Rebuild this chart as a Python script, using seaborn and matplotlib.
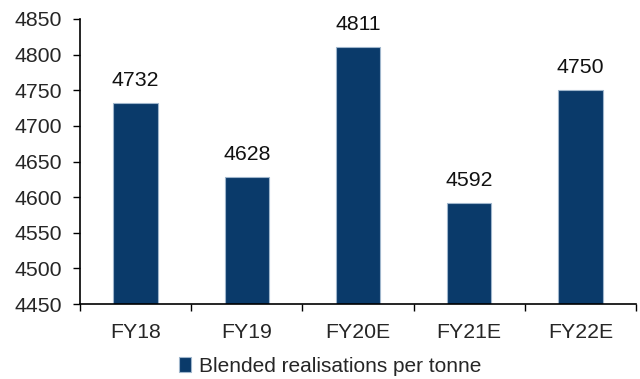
import matplotlib
matplotlib.use("Agg")
import matplotlib.pyplot as plt
import seaborn as sns
import pandas as pd
from matplotlib.ticker import FixedLocator

years = ["FY18", "FY19", "FY20E", "FY21E", "FY22E"]
realisations = [4732, 4628, 4811, 4592, 4750]
series_name = "Blended realisations per tonne"

sns.set_theme(style="white")
plt.rcParams["font.family"] = ["Liberation Sans", "DejaVu Sans"]

df = pd.DataFrame({"year": years, "value": realisations})

fig = plt.figure(figsize=(6.4, 3.79), dpi=100)
ax = fig.add_axes([80 / 640, 1 - 304 / 379, 556 / 640, 285 / 379])

sns.barplot(data=df, x="year", y="value", color="#0A3A6A", width=0.4,
            edgecolor="#9FB6CC", linewidth=0.8, saturation=1, ax=ax,
            label=series_name)

ax.set_ylim(4450, 4850)
ax.set_yticks(range(4450, 4851, 50))
ax.set_xlim(-0.5, len(years) - 0.5)
ax.set_xlabel("")
ax.set_ylabel("")

for i, v in enumerate(realisations):
    ax.text(i, v + 18, f"{v}", ha="center", va="bottom", fontsize=15.3, color="#111111")

for side in ("top", "right"):
    ax.spines[side].set_visible(False)
for side in ("left", "bottom"):
    ax.spines[side].set_color("black")
    ax.spines[side].set_linewidth(1.2)

ax.tick_params(axis="y", which="major", direction="out", length=5, width=1,
               color="black", labelsize=15.3, pad=8, left=True)
ax.tick_params(axis="x", which="major", length=0, labelsize=15.3, pad=14)
ax.xaxis.set_minor_locator(FixedLocator([i - 0.5 for i in range(len(years) + 1)]))
ax.tick_params(axis="x", which="minor", direction="out", length=5, width=1,
               color="black", bottom=True)

leg = ax.legend(loc="upper center", bbox_to_anchor=(0.45, -0.155), frameon=False,
                fontsize=15, handlelength=0.6, handleheight=0.8, handletextpad=0.4,
                borderaxespad=0)

fig.savefig("out.png", dpi=100)
